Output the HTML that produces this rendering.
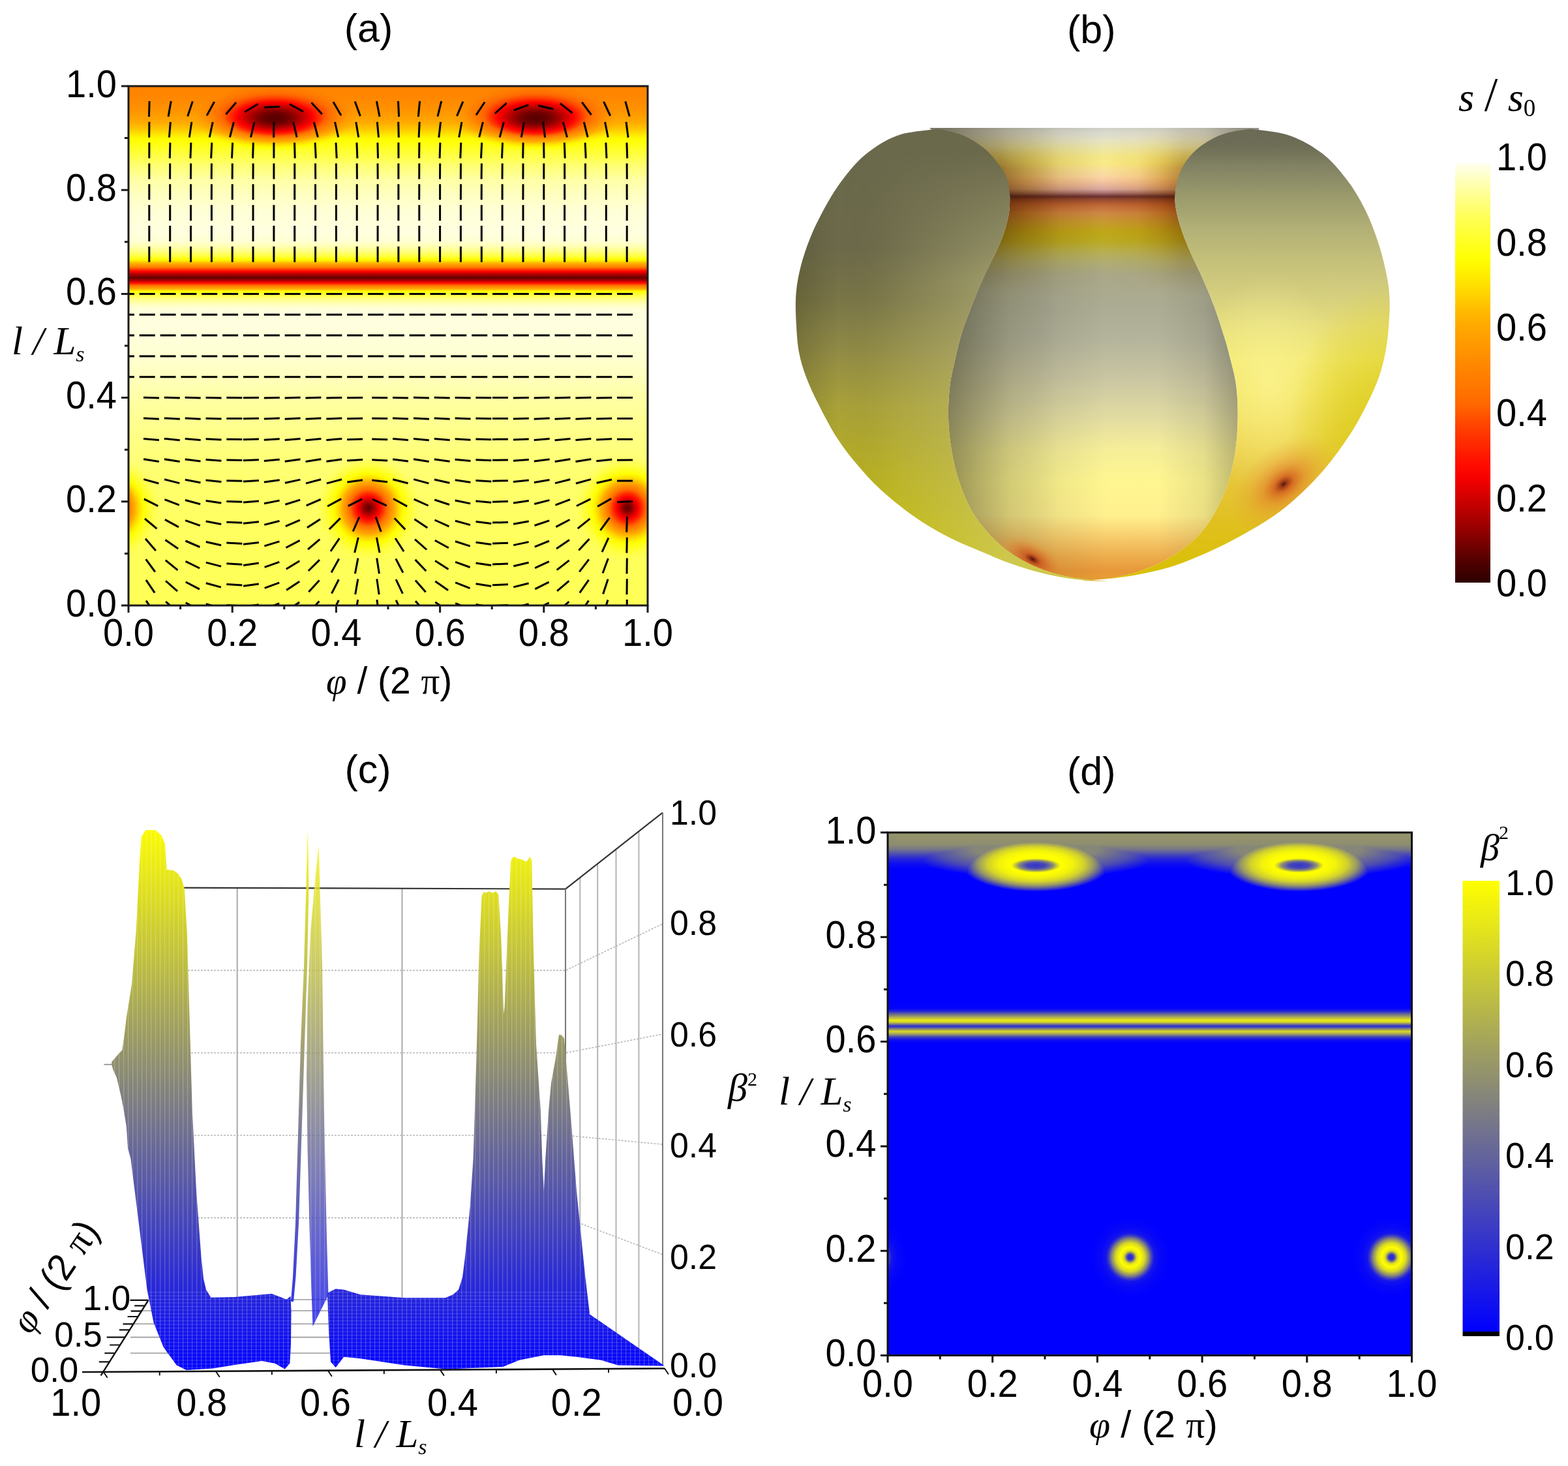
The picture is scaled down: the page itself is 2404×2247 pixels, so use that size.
<!DOCTYPE html>
<html><head><meta charset="utf-8"><title>Figure</title><style>html,body{margin:0;padding:0;background:#fff;}svg{display:block;}</style></head><body>
<svg xmlns="http://www.w3.org/2000/svg" width="2404" height="2247" viewBox="0 0 2404 2247">
<defs>
<filter id="cmA" color-interpolation-filters="sRGB" filterUnits="userSpaceOnUse" x="197" y="132" width="796" height="796"><feComponentTransfer><feFuncR type="table" tableValues="0.1765 0.2194 0.2623 0.3051 0.3585 0.4146 0.4706 0.5266 0.5804 0.6294 0.6784 0.7275 0.7765 0.8248 0.8729 0.9210 0.9692 1.0000 1.0000 1.0000 1.0000 1.0000 1.0000 1.0000 1.0000 1.0000 1.0000 1.0000 1.0000 1.0000 1.0000 1.0000 1.0000 1.0000 1.0000 1.0000 1.0000 1.0000 1.0000 1.0000 1.0000 1.0000 1.0000 1.0000 1.0000 1.0000 1.0000 1.0000 1.0000 1.0000 1.0000 1.0000 1.0000 1.0000 1.0000 1.0000 1.0000 1.0000 1.0000 1.0000 1.0000 1.0000 1.0000 1.0000 1.0000"/><feFuncG type="table" tableValues="0.0000 0.0000 0.0000 0.0000 0.0000 0.0000 0.0000 0.0000 0.0000 0.0000 0.0000 0.0000 0.0000 0.0000 0.0000 0.0000 0.0000 0.0128 0.0483 0.0839 0.1194 0.1550 0.1905 0.2260 0.2678 0.3098 0.3518 0.3938 0.4255 0.4459 0.4663 0.4868 0.5072 0.5276 0.5494 0.5717 0.5939 0.6162 0.6385 0.6608 0.6831 0.7152 0.7520 0.7887 0.8255 0.8623 0.8962 0.9278 0.9595 0.9911 1.0000 1.0000 1.0000 1.0000 1.0000 1.0000 1.0000 1.0000 1.0000 1.0000 1.0000 1.0000 1.0000 1.0000 1.0000"/><feFuncB type="table" tableValues="0.0000 0.0000 0.0000 0.0000 0.0000 0.0000 0.0000 0.0000 0.0000 0.0000 0.0000 0.0000 0.0000 0.0000 0.0000 0.0000 0.0000 0.0000 0.0000 0.0000 0.0000 0.0000 0.0000 0.0000 0.0000 0.0000 0.0000 0.0000 0.0000 0.0000 0.0000 0.0000 0.0000 0.0000 0.0000 0.0000 0.0000 0.0000 0.0000 0.0000 0.0000 0.0000 0.0000 0.0000 0.0000 0.0000 0.0000 0.0000 0.0000 0.0000 0.0385 0.0920 0.1455 0.1989 0.2524 0.3059 0.3594 0.4241 0.4941 0.5641 0.6342 0.7059 0.7843 0.8627 0.9412"/></feComponentTransfer></filter>
<linearGradient id="bgA" gradientUnits="userSpaceOnUse" x1="0" y1="132" x2="0" y2="928"><stop offset="0.0000" stop-color="#808080"/><stop offset="0.0250" stop-color="#858585"/><stop offset="0.0450" stop-color="#8c8c8c"/><stop offset="0.0650" stop-color="#999999"/><stop offset="0.0850" stop-color="#adadad"/><stop offset="0.1000" stop-color="#c2c2c2"/><stop offset="0.1150" stop-color="#cccccc"/><stop offset="0.1300" stop-color="#d6d6d6"/><stop offset="0.1500" stop-color="#e3e3e3"/><stop offset="0.1800" stop-color="#f0f0f0"/><stop offset="0.2100" stop-color="#f6f6f6"/><stop offset="0.2400" stop-color="#fafafa"/><stop offset="0.2800" stop-color="#fcfcfc"/><stop offset="0.3000" stop-color="#f9f9f9"/><stop offset="0.3100" stop-color="#f2f2f2"/><stop offset="0.3200" stop-color="#e6e6e6"/><stop offset="0.3280" stop-color="#d6d6d6"/><stop offset="0.3340" stop-color="#c4c4c4"/><stop offset="0.3410" stop-color="#a3a3a3"/><stop offset="0.3470" stop-color="#858585"/><stop offset="0.3520" stop-color="#616161"/><stop offset="0.3570" stop-color="#424242"/><stop offset="0.3630" stop-color="#262626"/><stop offset="0.3690" stop-color="#121212"/><stop offset="0.3740" stop-color="#262626"/><stop offset="0.3780" stop-color="#424242"/><stop offset="0.3820" stop-color="#616161"/><stop offset="0.3860" stop-color="#858585"/><stop offset="0.3910" stop-color="#a3a3a3"/><stop offset="0.3950" stop-color="#c4c4c4"/><stop offset="0.4020" stop-color="#d9d9d9"/><stop offset="0.4100" stop-color="#e8e8e8"/><stop offset="0.4200" stop-color="#f5f5f5"/><stop offset="0.4300" stop-color="#fbfbfb"/><stop offset="0.4500" stop-color="#fcfcfc"/><stop offset="0.4800" stop-color="#fbfbfb"/><stop offset="0.5200" stop-color="#f9f9f9"/><stop offset="0.5600" stop-color="#f5f5f5"/><stop offset="0.6000" stop-color="#f0f0f0"/><stop offset="0.6400" stop-color="#ececec"/><stop offset="0.7000" stop-color="#e7e7e7"/><stop offset="0.7500" stop-color="#e4e4e4"/><stop offset="0.8000" stop-color="#e2e2e2"/><stop offset="0.9000" stop-color="#dfdfdf"/><stop offset="1.0000" stop-color="#dedede"/></linearGradient>
<radialGradient id="dTop" cx="0.5" cy="0.5" r="0.5"><stop offset="0.000" stop-color="#000" stop-opacity="0.900"/><stop offset="0.120" stop-color="#000" stop-opacity="0.880"/><stop offset="0.220" stop-color="#000" stop-opacity="0.820"/><stop offset="0.340" stop-color="#000" stop-opacity="0.700"/><stop offset="0.470" stop-color="#000" stop-opacity="0.550"/><stop offset="0.620" stop-color="#000" stop-opacity="0.300"/><stop offset="0.780" stop-color="#000" stop-opacity="0.130"/><stop offset="0.900" stop-color="#000" stop-opacity="0.040"/><stop offset="1.000" stop-color="#000" stop-opacity="0.000"/></radialGradient>
<radialGradient id="dBot" cx="0.5" cy="0.5" r="0.5"><stop offset="0.000" stop-color="#000" stop-opacity="0.920"/><stop offset="0.070" stop-color="#000" stop-opacity="0.880"/><stop offset="0.150" stop-color="#000" stop-opacity="0.780"/><stop offset="0.240" stop-color="#000" stop-opacity="0.670"/><stop offset="0.340" stop-color="#000" stop-opacity="0.530"/><stop offset="0.440" stop-color="#000" stop-opacity="0.380"/><stop offset="0.550" stop-color="#000" stop-opacity="0.240"/><stop offset="0.670" stop-color="#000" stop-opacity="0.130"/><stop offset="0.800" stop-color="#000" stop-opacity="0.060"/><stop offset="0.900" stop-color="#000" stop-opacity="0.020"/><stop offset="1.000" stop-color="#000" stop-opacity="0.000"/></radialGradient>
<clipPath id="clipA"><rect x="197" y="132" width="796" height="796"/></clipPath>
<clipPath id="clipBulb"><path d="M1425,196 L1930,196 L1930,260 L1802.2,290.7 L1802.2,290.7 C1802.2,294.9 1800.7,305.8 1802.2,315.8 C1803.7,325.9 1807.0,338.8 1811.0,351.0 C1815.0,363.2 1820.5,376.2 1826.0,388.8 C1831.5,401.4 1837.8,413.1 1843.7,426.5 C1849.6,439.9 1855.8,454.5 1861.3,469.2 C1866.8,483.9 1872.5,501.9 1876.4,514.5 C1880.4,527.1 1881.9,532.4 1885.0,545.0 C1888.1,557.6 1893.1,574.4 1895.2,590.3 C1897.3,606.2 1897.9,623.8 1897.7,640.6 C1897.5,657.4 1896.3,675.0 1894.0,690.9 C1891.7,706.8 1888.5,721.5 1883.9,736.2 C1879.3,750.9 1873.4,765.5 1866.3,778.9 C1859.2,792.3 1851.1,805.4 1841.1,816.7 C1831.0,828.0 1819.0,838.0 1806.0,846.8 C1793.0,855.6 1778.7,863.2 1763.2,869.5 C1747.7,875.8 1730.1,881.2 1712.9,884.6 C1695.7,888.0 1668.8,889.1 1660.0,890.0 L1700.0,891.0 C1694.2,890.5 1677.4,889.8 1665.3,888.3 C1653.2,886.8 1640.2,885.1 1627.6,882.0 C1615.0,878.9 1602.4,874.9 1589.8,869.5 C1577.2,864.1 1563.4,856.9 1552.1,849.4 C1540.8,841.9 1532.0,834.7 1521.9,824.2 C1511.9,813.7 1500.2,800.3 1491.8,786.5 C1483.4,772.7 1477.1,757.1 1471.6,741.2 C1466.1,725.3 1461.9,707.7 1459.0,690.9 C1456.1,674.1 1454.4,657.4 1454.0,640.6 C1453.6,623.8 1454.8,605.0 1456.5,590.3 C1458.2,575.6 1461.2,565.2 1464.1,552.2 C1467.0,539.2 1470.3,524.6 1474.1,512.0 C1477.9,499.4 1482.1,489.0 1486.7,476.8 C1491.3,464.6 1497.2,449.9 1501.8,439.0 C1506.4,428.1 1510.2,420.2 1514.4,411.4 C1518.6,402.6 1522.8,395.4 1527.0,386.2 C1531.2,377.0 1536.2,366.1 1539.5,356.0 C1542.8,345.9 1545.5,335.1 1547.0,325.9 C1548.5,316.7 1548.1,304.9 1548.3,300.7 L1425,196Z"/></clipPath>
<clipPath id="clipLeft"><path d="M1438.9,197.6 C1428.4,199.3 1394.8,201.0 1376.0,207.7 C1357.2,214.4 1340.5,225.7 1325.8,237.8 C1311.1,250.0 1299.3,265.1 1288.0,280.6 C1276.7,296.1 1266.2,315.0 1257.8,330.9 C1249.4,346.8 1243.1,361.5 1237.7,376.2 C1232.3,390.9 1228.1,405.5 1225.2,418.9 C1222.3,432.3 1220.8,443.2 1220.1,456.7 C1219.4,470.2 1220.2,486.1 1221.0,500.0 C1221.8,513.9 1222.5,527.0 1225.0,540.0 C1227.5,553.0 1231.0,564.6 1236.0,578.0 C1241.0,591.4 1247.5,605.0 1255.3,620.5 C1263.1,636.0 1273.3,655.7 1283.0,670.8 C1292.7,685.9 1301.9,697.6 1313.2,711.0 C1324.5,724.4 1336.3,737.9 1351.0,751.3 C1365.7,764.7 1384.5,779.8 1401.2,791.5 C1418.0,803.2 1434.7,812.9 1451.5,821.7 C1468.3,830.5 1485.0,837.2 1501.8,844.3 C1518.6,851.4 1535.3,858.6 1552.1,864.5 C1568.9,870.4 1585.6,875.5 1602.4,879.5 C1619.2,883.5 1636.4,886.4 1652.7,888.3 C1669.0,890.2 1692.1,890.5 1700.0,891.0 L1700.0,891.0 C1694.2,890.5 1677.4,889.8 1665.3,888.3 C1653.2,886.8 1640.2,885.1 1627.6,882.0 C1615.0,878.9 1602.4,874.9 1589.8,869.5 C1577.2,864.1 1563.4,856.9 1552.1,849.4 C1540.8,841.9 1532.0,834.7 1521.9,824.2 C1511.9,813.7 1500.2,800.3 1491.8,786.5 C1483.4,772.7 1477.1,757.1 1471.6,741.2 C1466.1,725.3 1461.9,707.7 1459.0,690.9 C1456.1,674.1 1454.4,657.4 1454.0,640.6 C1453.6,623.8 1454.8,605.0 1456.5,590.3 C1458.2,575.6 1461.2,565.2 1464.1,552.2 C1467.0,539.2 1470.3,524.6 1474.1,512.0 C1477.9,499.4 1482.1,489.0 1486.7,476.8 C1491.3,464.6 1497.2,449.9 1501.8,439.0 C1506.4,428.1 1510.2,420.2 1514.4,411.4 C1518.6,402.6 1522.8,395.4 1527.0,386.2 C1531.2,377.0 1536.2,366.1 1539.5,356.0 C1542.8,345.9 1545.5,335.1 1547.0,325.9 C1548.5,316.7 1548.1,304.9 1548.3,300.7 L1548.3,300.7 C1547.7,296.5 1547.3,283.6 1544.6,275.6 C1541.9,267.7 1537.9,261.0 1532.0,253.0 C1526.1,245.0 1518.6,235.4 1509.4,227.8 C1500.2,220.2 1488.5,212.7 1476.7,207.7 C1465.0,202.7 1445.2,199.3 1438.9,197.6Z"/></clipPath>
<clipPath id="clipRight"><path d="M1916.6,197.6 C1926.7,199.3 1958.5,201.4 1977.0,207.7 C1995.5,214.0 2012.6,224.0 2027.3,235.3 C2042.0,246.6 2054.1,261.4 2065.0,275.6 C2075.9,289.9 2084.7,304.9 2092.7,320.8 C2100.7,336.7 2107.4,354.7 2112.8,371.1 C2118.2,387.5 2122.5,404.7 2125.4,419.0 C2128.3,433.3 2129.8,443.2 2130.4,456.7 C2131.0,470.2 2130.2,486.1 2129.1,500.0 C2128.0,513.9 2126.5,527.0 2124.0,540.0 C2121.5,553.0 2118.4,565.4 2114.0,578.0 C2109.6,590.6 2103.8,603.0 2097.7,615.5 C2091.6,628.0 2085.1,640.6 2077.6,653.2 C2070.1,665.8 2061.6,678.3 2052.4,690.9 C2043.2,703.5 2032.7,716.9 2022.2,728.6 C2011.7,740.3 2001.2,750.8 1989.5,761.3 C1977.8,771.8 1966.5,781.4 1951.8,791.5 C1937.1,801.6 1918.3,812.5 1901.5,821.7 C1884.7,830.9 1868.0,839.2 1851.2,846.8 C1834.4,854.3 1817.7,861.5 1800.9,867.0 C1784.1,872.5 1767.4,876.1 1750.6,879.5 C1733.8,882.9 1715.4,885.4 1700.3,887.1 C1685.2,888.9 1666.7,889.5 1660.0,890.0 L1660.0,890.0 C1668.8,889.1 1695.7,888.0 1712.9,884.6 C1730.1,881.2 1747.7,875.8 1763.2,869.5 C1778.7,863.2 1793.0,855.6 1806.0,846.8 C1819.0,838.0 1831.0,828.0 1841.1,816.7 C1851.1,805.4 1859.2,792.3 1866.3,778.9 C1873.4,765.5 1879.3,750.9 1883.9,736.2 C1888.5,721.5 1891.7,706.8 1894.0,690.9 C1896.3,675.0 1897.5,657.4 1897.7,640.6 C1897.9,623.8 1897.3,606.2 1895.2,590.3 C1893.1,574.4 1888.1,557.6 1885.0,545.0 C1881.9,532.4 1880.4,527.1 1876.4,514.5 C1872.5,501.9 1866.8,483.9 1861.3,469.2 C1855.8,454.5 1849.6,439.9 1843.7,426.5 C1837.8,413.1 1831.5,401.4 1826.0,388.8 C1820.5,376.2 1815.0,363.2 1811.0,351.0 C1807.0,338.8 1803.7,325.9 1802.2,315.8 C1800.7,305.8 1802.2,294.9 1802.2,290.7 L1802.2,290.7 C1803.2,286.5 1805.0,273.9 1808.5,265.5 C1812.0,257.1 1817.2,248.0 1823.5,240.4 C1829.8,232.8 1837.4,226.1 1846.2,220.2 C1855.0,214.3 1864.7,209.0 1876.4,205.2 C1888.1,201.4 1909.9,198.9 1916.6,197.6Z"/></clipPath>
<linearGradient id="bBulbV" gradientUnits="userSpaceOnUse" x1="0" y1="195" x2="0" y2="892"><stop offset="0.0000" stop-color="#cfd0c8"/><stop offset="0.0143" stop-color="#dcdcd0"/><stop offset="0.0287" stop-color="#e6e4c6"/><stop offset="0.0473" stop-color="#eee8a6"/><stop offset="0.0646" stop-color="#f6ea8c"/><stop offset="0.0789" stop-color="#faec88"/><stop offset="0.0961" stop-color="#fae2a0"/><stop offset="0.1105" stop-color="#fcd6a6"/><stop offset="0.1248" stop-color="#f0bea0"/><stop offset="0.1363" stop-color="#d8a8a0"/><stop offset="0.1449" stop-color="#a87070"/><stop offset="0.1521" stop-color="#6a3030"/><stop offset="0.1593" stop-color="#984c30"/><stop offset="0.1707" stop-color="#c06838"/><stop offset="0.1879" stop-color="#d08848"/><stop offset="0.2080" stop-color="#c89a30"/><stop offset="0.2296" stop-color="#c0a818"/><stop offset="0.2511" stop-color="#bcac22"/><stop offset="0.2726" stop-color="#b8b050"/><stop offset="0.2941" stop-color="#b2ae70"/><stop offset="0.3228" stop-color="#aaa888"/><stop offset="0.3945" stop-color="#acac94"/><stop offset="0.4663" stop-color="#b4b49c"/><stop offset="0.5524" stop-color="#cac6a2"/><stop offset="0.6385" stop-color="#e2dca2"/><stop offset="0.7102" stop-color="#f6ee98"/><stop offset="0.7819" stop-color="#fff690"/><stop offset="0.8537" stop-color="#fff08e"/><stop offset="0.8967" stop-color="#f8d070"/><stop offset="0.9397" stop-color="#eeb050"/><stop offset="0.9756" stop-color="#e89838"/><stop offset="1.0000" stop-color="#e8a030"/></linearGradient>
<linearGradient id="bBulbH" gradientUnits="userSpaceOnUse" x1="1452" y1="0" x2="1900" y2="0"><stop offset="0.0000" stop-color="#2a2810" stop-opacity="0.500"/><stop offset="0.1000" stop-color="#2a2810" stop-opacity="0.360"/><stop offset="0.2200" stop-color="#2a2810" stop-opacity="0.200"/><stop offset="0.3800" stop-color="#000" stop-opacity="0.060"/><stop offset="0.5500" stop-color="#000" stop-opacity="0.000"/><stop offset="0.7200" stop-color="#000" stop-opacity="0.000"/><stop offset="0.8800" stop-color="#000" stop-opacity="0.080"/><stop offset="1.0000" stop-color="#000" stop-opacity="0.260"/></linearGradient>
<linearGradient id="bNeckMul" gradientUnits="userSpaceOnUse" x1="1535" y1="0" x2="1815" y2="0"><stop offset="0.0000" stop-color="#b89448"/><stop offset="0.1400" stop-color="#dcc070"/><stop offset="0.3200" stop-color="#f6ecc8"/><stop offset="0.5500" stop-color="#ffffff"/><stop offset="0.7500" stop-color="#f6ecc8"/><stop offset="0.8900" stop-color="#dcc070"/><stop offset="1.0000" stop-color="#b89448"/></linearGradient>
<linearGradient id="bNeckFade" gradientUnits="userSpaceOnUse" x1="0" y1="195" x2="0" y2="450"><stop offset="0.0000" stop-color="#fff" stop-opacity="0.100"/><stop offset="0.1200" stop-color="#fff" stop-opacity="0.300"/><stop offset="0.2500" stop-color="#fff" stop-opacity="0.850"/><stop offset="0.5000" stop-color="#fff" stop-opacity="1.000"/><stop offset="0.8000" stop-color="#fff" stop-opacity="0.300"/><stop offset="1.0000" stop-color="#fff" stop-opacity="0.000"/></linearGradient>
<mask id="bNeckMask" maskUnits="userSpaceOnUse" x="1400" y="190" width="560" height="270"><rect x="1400" y="190" width="560" height="270" fill="url(#bNeckFade)"/></mask>
<radialGradient id="bDef1" cx="0.5" cy="0.5" r="0.5"><stop offset="0.0000" stop-color="#3a1008" stop-opacity="0.950"/><stop offset="0.0800" stop-color="#801c0c" stop-opacity="0.850"/><stop offset="0.2200" stop-color="#c84818" stop-opacity="0.700"/><stop offset="0.5000" stop-color="#dc6c24" stop-opacity="0.450"/><stop offset="0.7500" stop-color="#e48a34" stop-opacity="0.200"/><stop offset="1.0000" stop-color="#e89040" stop-opacity="0.000"/></radialGradient>
<linearGradient id="bLeftMaskG" gradientUnits="userSpaceOnUse" x1="0" y1="230" x2="0" y2="430"><stop offset="0.0000" stop-color="#fff" stop-opacity="0.000"/><stop offset="1.0000" stop-color="#fff" stop-opacity="1.000"/></linearGradient>
<mask id="bLeftMask" maskUnits="userSpaceOnUse" x="1200" y="180" width="520" height="730"><rect x="1200" y="180" width="520" height="730" fill="url(#bLeftMaskG)"/></mask>
<linearGradient id="bLeftV" gradientUnits="userSpaceOnUse" x1="0" y1="200" x2="0" y2="890"><stop offset="0.0000" stop-color="#6a694c"/><stop offset="0.2609" stop-color="#6c6a4a"/><stop offset="0.3768" stop-color="#7a7648"/><stop offset="0.4928" stop-color="#928c46"/><stop offset="0.6087" stop-color="#a9a13a"/><stop offset="0.7536" stop-color="#b8b024"/><stop offset="0.8696" stop-color="#c2ba14"/><stop offset="1.0000" stop-color="#cac200"/></linearGradient>
<linearGradient id="bLeftH" gradientUnits="userSpaceOnUse" x1="1220" y1="0" x2="1550" y2="0"><stop offset="0.0000" stop-color="#1a1a00" stop-opacity="0.180"/><stop offset="0.2000" stop-color="#1a1a00" stop-opacity="0.000"/><stop offset="0.4500" stop-color="#d0cc90" stop-opacity="0.080"/><stop offset="1.0000" stop-color="#d4d094" stop-opacity="0.500"/></linearGradient>
<radialGradient id="bLeftHi" cx="0.5" cy="0.5" r="0.5"><stop offset="0.0000" stop-color="#c8c488" stop-opacity="0.450"/><stop offset="0.5000" stop-color="#c0bc80" stop-opacity="0.250"/><stop offset="1.0000" stop-color="#c0bc80" stop-opacity="0.000"/></radialGradient>
<linearGradient id="bRightV" gradientUnits="userSpaceOnUse" x1="0" y1="197" x2="0" y2="890"><stop offset="0.0000" stop-color="#6a6a55"/><stop offset="0.0404" stop-color="#6e6e57"/><stop offset="0.0837" stop-color="#828264"/><stop offset="0.1486" stop-color="#9a9a6c"/><stop offset="0.2208" stop-color="#b2b076"/><stop offset="0.2929" stop-color="#c4c07a"/><stop offset="0.3651" stop-color="#d4ce7e"/><stop offset="0.4372" stop-color="#e6de7c"/><stop offset="0.5094" stop-color="#f2e870"/><stop offset="0.5815" stop-color="#f2e460"/><stop offset="0.6681" stop-color="#eed850"/><stop offset="0.7547" stop-color="#e8c840"/><stop offset="0.8701" stop-color="#e0c020"/><stop offset="1.0000" stop-color="#d8c000"/></linearGradient>
<radialGradient id="bRightHi" cx="0.5" cy="0.5" r="0.5"><stop offset="0.0000" stop-color="#fff8a0" stop-opacity="0.600"/><stop offset="0.5000" stop-color="#fff8a0" stop-opacity="0.300"/><stop offset="1.0000" stop-color="#fff8a0" stop-opacity="0.000"/></radialGradient>
<radialGradient id="bRightEdge" cx="0.5" cy="0.5" r="0.5"><stop offset="0.0000" stop-color="#d0c000" stop-opacity="0.750"/><stop offset="0.5000" stop-color="#d4c400" stop-opacity="0.450"/><stop offset="1.0000" stop-color="#d8c800" stop-opacity="0.000"/></radialGradient>
<radialGradient id="bDef2" cx="0.5" cy="0.5" r="0.5"><stop offset="0.0000" stop-color="#3a1208" stop-opacity="0.950"/><stop offset="0.0600" stop-color="#902010" stop-opacity="0.850"/><stop offset="0.1800" stop-color="#d04818" stop-opacity="0.700"/><stop offset="0.3800" stop-color="#e07028" stop-opacity="0.500"/><stop offset="0.6500" stop-color="#e89034" stop-opacity="0.280"/><stop offset="1.0000" stop-color="#eaa040" stop-opacity="0.000"/></radialGradient>
<linearGradient id="cbA" x1="0" y1="0" x2="0" y2="1"><stop offset="0.0000" stop-color="#fffff0"/><stop offset="0.0250" stop-color="#ffffd0"/><stop offset="0.0500" stop-color="#ffffb0"/><stop offset="0.0750" stop-color="#ffff93"/><stop offset="0.1000" stop-color="#ffff77"/><stop offset="0.1250" stop-color="#ffff5c"/><stop offset="0.1500" stop-color="#ffff46"/><stop offset="0.1750" stop-color="#ffff30"/><stop offset="0.2000" stop-color="#ffff1a"/><stop offset="0.2250" stop-color="#ffff04"/><stop offset="0.2500" stop-color="#fff500"/><stop offset="0.2750" stop-color="#ffe800"/><stop offset="0.3000" stop-color="#ffda00"/><stop offset="0.3250" stop-color="#ffcb00"/><stop offset="0.3500" stop-color="#ffbc00"/><stop offset="0.3750" stop-color="#ffae00"/><stop offset="0.4000" stop-color="#ffa500"/><stop offset="0.4250" stop-color="#ff9c00"/><stop offset="0.4500" stop-color="#ff9300"/><stop offset="0.4750" stop-color="#ff8a00"/><stop offset="0.5000" stop-color="#ff8100"/><stop offset="0.5250" stop-color="#ff7900"/><stop offset="0.5500" stop-color="#ff7100"/><stop offset="0.5750" stop-color="#ff6700"/><stop offset="0.6000" stop-color="#ff5500"/><stop offset="0.6250" stop-color="#ff4400"/><stop offset="0.6500" stop-color="#ff3400"/><stop offset="0.6750" stop-color="#ff2600"/><stop offset="0.7000" stop-color="#ff1700"/><stop offset="0.7250" stop-color="#ff0900"/><stop offset="0.7500" stop-color="#f70000"/><stop offset="0.7750" stop-color="#e30000"/><stop offset="0.8000" stop-color="#d00000"/><stop offset="0.8250" stop-color="#bc0000"/><stop offset="0.8500" stop-color="#a80000"/><stop offset="0.8750" stop-color="#940000"/><stop offset="0.9000" stop-color="#7e0000"/><stop offset="0.9250" stop-color="#670000"/><stop offset="0.9500" stop-color="#500000"/><stop offset="0.9750" stop-color="#3f0000"/><stop offset="1.0000" stop-color="#2d0000"/></linearGradient>
<linearGradient id="cSurf" gradientUnits="userSpaceOnUse" x1="0" y1="2104" x2="0" y2="1259"><stop offset="0.0000" stop-color="#0000ff"/><stop offset="0.0500" stop-color="#0d0df2"/><stop offset="0.1000" stop-color="#1a1ae6"/><stop offset="0.1500" stop-color="#2626d9"/><stop offset="0.2000" stop-color="#3333cc"/><stop offset="0.2500" stop-color="#4040c0"/><stop offset="0.3000" stop-color="#4d4db3"/><stop offset="0.3500" stop-color="#5a5aa6"/><stop offset="0.4000" stop-color="#666699"/><stop offset="0.4500" stop-color="#73738d"/><stop offset="0.5000" stop-color="#808080"/><stop offset="0.5500" stop-color="#8d8d73"/><stop offset="0.6000" stop-color="#999966"/><stop offset="0.6500" stop-color="#a6a65a"/><stop offset="0.7000" stop-color="#b3b34d"/><stop offset="0.7500" stop-color="#c0c040"/><stop offset="0.8000" stop-color="#cccc33"/><stop offset="0.8500" stop-color="#d9d926"/><stop offset="0.9000" stop-color="#e6e61a"/><stop offset="0.9500" stop-color="#f2f20d"/><stop offset="1.0000" stop-color="#ffff00"/></linearGradient>
<pattern id="cVert" patternUnits="userSpaceOnUse" x="0" y="0" width="7" height="40"><rect x="0" y="0" width="1.2" height="40" fill="#fff" fill-opacity="0.22"/></pattern>
<pattern id="cHorz" patternUnits="userSpaceOnUse" x="0" y="0" width="40" height="5.5"><rect x="0" y="0" width="40" height="1.1" fill="#fff" fill-opacity="0.16"/></pattern>
<clipPath id="cClipL"><polygon points="216.7,1283.0 223.4,1272.3 238.2,1272.3 247.6,1280.4 253.0,1293.8 255.7,1333.0 266.5,1334.2 273.2,1339.6 278.6,1347.6 282.6,1361.0 286.7,1428.4 290.7,1563.0 294.7,1700.0 301.0,1825.8 308.5,1926.4 312.0,1960.0 316.0,1976.7 323.5,1988.7 360.0,1988.0 401.5,1984.2 416.6,1983.0 426.7,1986.7 439.2,1991.7 445.5,1986.7 446.5,2010.0 446.0,2060.0 444.3,2089.8 436.7,2098.6 421.6,2089.8 401.5,2086.0 360.0,2092.0 326.0,2097.4 285.8,2100.0 270.7,2092.4 250.6,2064.7 235.5,2027.0 225.5,1976.7 212.9,1876.0 200.3,1775.5 196.0,1760.0 193.8,1726.8 189.5,1700.0 185.2,1678.4 178.8,1651.5 173.4,1639.7 171.2,1631.6 171.2,1627.8 182.0,1615.0 187.4,1609.5 190.6,1587.0 193.8,1560.0 202.0,1509.0 208.6,1428.0 214.0,1320.7"/></clipPath>
<clipPath id="cClipR"><polygon points="502.0,1981.7 514.7,1975.4 527.3,1976.7 552.4,1984.2 620.0,1989.2 682.9,1989.2 695.0,1984.0 703.0,1976.7 709.0,1958.0 713.0,1926.4 720.6,1851.0 725.6,1775.5 728.0,1700.0 731.0,1600.0 734.5,1462.0 738.6,1373.4 741.5,1367.0 745.0,1368.5 750.0,1366.0 755.0,1369.0 760.0,1366.2 764.2,1370.7 768.2,1435.3 772.2,1553.7 773.6,1543.0 779.0,1408.4 783.0,1322.3 783.8,1316.9 788.4,1312.8 793.0,1316.0 799.1,1316.9 807.2,1321.0 812.6,1312.8 815.3,1319.6 818.0,1462.0 822.0,1600.0 828.7,1700.0 831.3,1775.5 833.8,1825.8 836.3,1775.5 841.3,1700.0 845.0,1660.0 851.6,1623.7 857.0,1586.0 861.0,1586.5 865.0,1591.4 870.0,1650.0 875.8,1720.0 884.0,1825.8 896.7,1951.5 904.2,2014.4 960.0,2053.0 1017.4,2092.4 1017.4,2093.6 947.0,2092.4 921.8,2084.8 884.0,2079.8 859.0,2077.3 833.8,2077.3 796.0,2084.8 771.0,2094.9 700.0,2098.0 682.9,2098.6 620.0,2092.4 552.4,2082.3 527.3,2079.8 514.7,2096.0 507.0,2087.3 504.0,2040.0"/></clipPath>
<filter id="cmD" color-interpolation-filters="sRGB" filterUnits="userSpaceOnUse" x="1361" y="1276" width="803.5" height="801.5"><feComponentTransfer><feFuncR type="table" tableValues="0.0000 0.0314 0.0627 0.0941 0.1255 0.1569 0.1882 0.2196 0.2510 0.2824 0.3137 0.3451 0.3765 0.4078 0.4392 0.4706 0.5020 0.5331 0.5642 0.5953 0.6265 0.6576 0.6887 0.7199 0.7510 0.7821 0.8132 0.8444 0.8755 0.9066 0.9377 0.9689 1.0000"/><feFuncG type="table" tableValues="0.0000 0.0314 0.0627 0.0941 0.1255 0.1569 0.1882 0.2196 0.2510 0.2824 0.3137 0.3451 0.3765 0.4078 0.4392 0.4706 0.5020 0.5331 0.5642 0.5953 0.6265 0.6576 0.6887 0.7199 0.7510 0.7821 0.8132 0.8444 0.8755 0.9066 0.9377 0.9689 1.0000"/><feFuncB type="table" tableValues="1.0000 0.9689 0.9377 0.9066 0.8755 0.8444 0.8132 0.7821 0.7510 0.7199 0.6887 0.6576 0.6265 0.5953 0.5642 0.5331 0.5020 0.4706 0.4392 0.4078 0.3765 0.3451 0.3137 0.2824 0.2510 0.2196 0.1882 0.1569 0.1255 0.0941 0.0627 0.0314 0.0000"/></feComponentTransfer></filter>
<linearGradient id="dTopBand" gradientUnits="userSpaceOnUse" x1="0" y1="1276" x2="0" y2="1336"><stop offset="0.0000" stop-color="#fff" stop-opacity="0.580"/><stop offset="0.3000" stop-color="#fff" stop-opacity="0.560"/><stop offset="0.4333" stop-color="#fff" stop-opacity="0.460"/><stop offset="0.5500" stop-color="#fff" stop-opacity="0.300"/><stop offset="0.6667" stop-color="#fff" stop-opacity="0.150"/><stop offset="0.8000" stop-color="#fff" stop-opacity="0.050"/><stop offset="0.9333" stop-color="#fff" stop-opacity="0.000"/></linearGradient>
<linearGradient id="dLines" gradientUnits="userSpaceOnUse" x1="0" y1="1538" x2="0" y2="1600"><stop offset="0.0000" stop-color="#fff" stop-opacity="0.000"/><stop offset="0.1290" stop-color="#fff" stop-opacity="0.020"/><stop offset="0.1935" stop-color="#fff" stop-opacity="0.150"/><stop offset="0.2742" stop-color="#fff" stop-opacity="0.450"/><stop offset="0.3548" stop-color="#fff" stop-opacity="0.720"/><stop offset="0.4194" stop-color="#fff" stop-opacity="0.930"/><stop offset="0.4677" stop-color="#fff" stop-opacity="0.800"/><stop offset="0.5097" stop-color="#fff" stop-opacity="0.500"/><stop offset="0.5645" stop-color="#fff" stop-opacity="0.150"/><stop offset="0.6258" stop-color="#fff" stop-opacity="0.500"/><stop offset="0.6935" stop-color="#fff" stop-opacity="0.860"/><stop offset="0.7629" stop-color="#fff" stop-opacity="0.600"/><stop offset="0.8306" stop-color="#fff" stop-opacity="0.250"/><stop offset="0.9032" stop-color="#fff" stop-opacity="0.050"/><stop offset="1.0000" stop-color="#fff" stop-opacity="0.000"/></linearGradient>
<radialGradient id="dBlob" cx="0.5" cy="0.5" r="0.5"><stop offset="0.000" stop-color="#ffffff"/><stop offset="0.350" stop-color="#ffffff"/><stop offset="0.500" stop-color="#f2f2f2"/><stop offset="0.650" stop-color="#d1d1d1"/><stop offset="0.780" stop-color="#999999"/><stop offset="0.880" stop-color="#595959"/><stop offset="1.000" stop-color="#000000"/></radialGradient>
<radialGradient id="dHole" cx="0.5" cy="0.5" r="0.5"><stop offset="0.000" stop-color="#000" stop-opacity="0.800"/><stop offset="0.400" stop-color="#000" stop-opacity="0.720"/><stop offset="0.700" stop-color="#000" stop-opacity="0.450"/><stop offset="0.850" stop-color="#000" stop-opacity="0.200"/><stop offset="1.000" stop-color="#000" stop-opacity="0.000"/></radialGradient>
<radialGradient id="dHalo" cx="0.5" cy="0.5" r="0.5"><stop offset="0.000" stop-color="#8f8f8f"/><stop offset="0.450" stop-color="#858585"/><stop offset="0.750" stop-color="#4c4c4c"/><stop offset="1.000" stop-color="#000000"/></radialGradient>
<radialGradient id="dBRing" cx="0.5" cy="0.5" r="0.5"><stop offset="0.000" stop-color="#fff" stop-opacity="0.150"/><stop offset="0.067" stop-color="#fff" stop-opacity="0.200"/><stop offset="0.117" stop-color="#fff" stop-opacity="0.550"/><stop offset="0.167" stop-color="#fff" stop-opacity="0.880"/><stop offset="0.250" stop-color="#fff" stop-opacity="1.000"/><stop offset="0.367" stop-color="#fff" stop-opacity="0.850"/><stop offset="0.483" stop-color="#fff" stop-opacity="0.500"/><stop offset="0.550" stop-color="#fff" stop-opacity="0.250"/><stop offset="0.617" stop-color="#fff" stop-opacity="0.080"/><stop offset="0.750" stop-color="#fff" stop-opacity="0.030"/><stop offset="1.000" stop-color="#fff" stop-opacity="0.000"/></radialGradient>
<clipPath id="clipD"><rect x="1361" y="1276" width="803.5" height="801.5"/></clipPath>
<linearGradient id="cbD" x1="0" y1="0" x2="0" y2="1"><stop offset="0.000" stop-color="#ffff00"/><stop offset="0.050" stop-color="#f2f20d"/><stop offset="0.100" stop-color="#e6e61a"/><stop offset="0.150" stop-color="#d9d926"/><stop offset="0.200" stop-color="#cccc33"/><stop offset="0.250" stop-color="#c0c040"/><stop offset="0.300" stop-color="#b3b34d"/><stop offset="0.350" stop-color="#a6a65a"/><stop offset="0.400" stop-color="#999966"/><stop offset="0.450" stop-color="#8d8d73"/><stop offset="0.500" stop-color="#808080"/><stop offset="0.550" stop-color="#73738d"/><stop offset="0.600" stop-color="#666699"/><stop offset="0.650" stop-color="#5a5aa6"/><stop offset="0.700" stop-color="#4d4db3"/><stop offset="0.750" stop-color="#4040c0"/><stop offset="0.800" stop-color="#3333cc"/><stop offset="0.850" stop-color="#2626d9"/><stop offset="0.900" stop-color="#1a1ae6"/><stop offset="0.950" stop-color="#0d0df2"/><stop offset="1.000" stop-color="#0000ff"/></linearGradient>
</defs>
<rect x="0" y="0" width="2404" height="2247" fill="#fff"/>
<g clip-path="url(#clipA)"><g filter="url(#cmA)">
<rect x="197" y="132" width="796" height="796" fill="url(#bgA)"/>
<ellipse cx="421.5" cy="181.5" rx="125" ry="50" fill="url(#dTop)"/>
<ellipse cx="821.6" cy="181.5" rx="125" ry="50" fill="url(#dTop)"/>
<circle cx="564.9" cy="778.5" r="80" fill="url(#dBot)"/>
<circle cx="962.2" cy="778.5" r="80" fill="url(#dBot)"/>
<circle cx="166.2" cy="778.5" r="80" fill="url(#dBot)"/>
</g>
<path d="M237.1,940.7L224.0,920.6M271.9,938.1L254.1,922.1M305.8,935.2L284.7,923.8M338.9,932.1L315.8,925.6M371.3,928.9L347.3,927.5M373.1,930.2L396.8,926.7M405.7,933.3L428.2,924.9M439.1,936.4L459.1,923.1M473.4,939.2L489.5,921.4M508.7,941.5L519.3,920.0M544.7,942.9L548.7,919.2M581.1,943.0L577.9,919.2M617.3,941.7L607.2,919.9M652.6,939.5L637.0,921.3M687.0,936.7L667.3,922.9M720.5,933.6L698.2,924.7M753.2,930.5L729.5,926.5M755.0,928.6L779.0,927.6M787.3,931.8L810.6,925.8M820.3,934.9L841.7,923.9M854.2,937.9L872.4,922.2M889.0,940.5L902.5,920.7M924.7,942.4L932.0,919.5M961.0,943.1L961.3,919.1M237.2,908.7L223.9,888.8M272.0,906.1L254.0,890.3M305.9,903.2L284.7,892.0M338.9,900.1L315.8,893.8M371.3,897.1L347.3,895.6M373.1,898.3L396.8,894.9M405.7,901.4L428.2,893.1M439.1,904.4L459.2,891.3M473.3,907.3L489.6,889.6M508.5,909.6L519.4,888.2M544.7,911.1L548.8,887.4M581.2,911.1L577.8,887.4M617.4,909.8L607.1,888.1M652.7,907.5L636.9,889.5M687.1,904.7L667.3,891.1M720.5,901.7L698.2,892.9M753.2,898.6L729.5,894.7M755.0,896.8L779.0,895.8M787.3,899.9L810.6,894.0M820.3,902.9L841.7,892.2M854.1,905.9L872.4,890.4M888.8,908.6L902.6,888.9M924.6,910.5L932.1,887.7M961.0,911.3L961.3,887.3M237.8,876.5L223.6,857.1M272.4,873.8L253.8,858.7M306.1,871.0L284.5,860.4M339.0,868.1L315.8,862.1M371.3,865.2L347.3,863.8M373.1,866.4L396.8,863.1M405.6,869.3L428.3,861.4M438.8,872.2L459.3,859.7M472.8,875.0L489.9,858.1M508.0,877.5L519.7,856.6M544.4,879.2L548.9,855.6M581.4,879.3L577.7,855.5M617.9,877.7L606.8,856.4M653.2,875.3L636.6,857.9M687.4,872.4L667.1,859.6M720.6,869.5L698.1,861.3M753.2,866.6L729.5,863.0M755.0,864.9L779.0,864.0M787.3,867.8L810.6,862.3M820.1,870.7L841.8,860.6M853.7,873.6L872.6,858.9M888.3,876.3L902.9,857.3M924.1,878.5L932.4,856.0M961.0,879.4L961.3,855.4M238.8,843.9L223.0,825.8M273.1,841.1L253.4,827.4M306.4,838.5L284.4,829.0M339.1,835.8L315.7,830.5M371.3,833.2L347.3,832.0M373.0,834.3L396.9,831.4M405.4,836.9L428.4,829.9M438.4,839.5L459.6,828.3M472.0,842.2L490.3,826.7M506.9,845.0L520.4,825.2M543.7,847.2L549.3,823.9M582.0,847.3L577.4,823.8M619.1,845.2L606.1,825.0M654.1,842.5L636.1,826.6M687.8,839.8L666.8,828.2M720.8,837.1L698.0,829.7M753.3,834.5L729.5,831.3M755.0,833.0L779.0,832.2M787.2,835.6L810.6,830.6M819.8,838.2L842.0,829.1M853.1,840.9L873.0,827.5M887.3,843.6L903.5,825.9M923.0,846.2L933.0,824.4M960.9,847.6L961.3,823.6M240.5,810.3L222.0,795.0M273.9,807.9L252.9,796.4M306.8,805.7L284.1,797.7M339.2,803.5L315.6,799.0M371.3,801.3L347.3,800.3M373.0,802.2L396.9,799.7M405.2,804.4L428.5,798.5M437.8,806.6L459.9,797.2M470.9,808.8L491.0,795.8M504.7,811.3L521.7,794.4M541.2,814.5L550.8,792.5M584.2,814.9L576.1,792.3M621.3,811.6L604.8,794.2M655.3,809.1L635.4,795.7M688.4,806.8L666.5,797.0M721.0,804.6L697.9,798.3M753.3,802.4L729.5,799.6M755.0,801.1L779.0,800.4M787.1,803.3L810.7,799.1M819.5,805.5L842.2,797.8M852.3,807.7L873.5,796.5M885.7,810.1L904.4,795.1M920.4,812.8L934.6,793.5M960.7,815.8L961.4,791.8M242.3,775.6L220.9,764.8M274.8,774.2L252.4,765.6M307.1,772.7L283.9,766.5M339.3,771.0L315.6,767.5M371.3,769.3L347.3,768.5M373.0,770.0L396.9,768.1M405.0,771.7L428.6,767.1M437.3,773.3L460.2,766.1M469.7,774.8L491.7,765.3M502.1,776.0L523.2,764.6M533.7,775.6L555.2,764.8M592.8,775.1L571.0,765.1M624.2,776.1L603.1,764.5M656.6,775.0L634.6,765.2M689.0,773.5L666.2,766.0M721.2,771.9L697.7,767.0M753.3,770.2L729.4,768.0M755.0,769.2L779.0,768.6M787.0,770.9L810.8,767.6M819.2,772.5L842.4,766.6M851.5,774.1L874.0,765.7M883.9,775.5L905.4,764.9M916.1,776.2L937.1,764.4M946.1,769.5L970.0,768.4M243.4,741.0L220.3,734.6M275.3,740.6L252.1,734.8M307.4,739.7L283.8,735.3M339.4,738.6L315.5,736.0M371.3,737.3L347.3,736.7M372.9,737.9L396.9,736.4M404.9,739.1L428.7,735.7M436.9,740.2L460.4,735.1M469.0,740.9L492.1,734.7M500.8,740.9L524.0,734.7M532.3,739.1L556.0,735.7M594.1,738.7L570.3,736.0M625.6,740.8L602.3,734.7M657.4,740.9L634.2,734.6M689.4,740.2L665.9,735.0M721.4,739.2L697.7,735.7M753.4,738.0L729.4,736.4M755.0,737.2L779.0,736.8M786.9,738.5L810.8,736.1M818.9,739.6L842.5,735.4M851.0,740.6L874.3,734.8M882.9,741.0L906.0,734.6M914.6,740.2L938.0,735.0M946.0,737.1L970.0,736.9M243.8,707.4L220.1,703.8M275.6,707.5L251.9,703.8M307.5,707.0L283.7,704.0M339.4,706.2L315.5,704.5M371.3,705.4L347.3,705.0M372.9,705.7L396.9,704.8M404.8,706.6L428.7,704.3M436.7,707.2L460.5,703.9M468.6,707.5L492.3,703.7M500.4,707.2L524.2,703.9M532.1,706.1L556.1,704.6M594.2,705.9L570.2,704.7M625.9,707.1L602.1,704.0M657.7,707.5L634.0,703.7M689.6,707.2L665.8,703.9M721.5,706.6L697.6,704.2M753.4,705.8L729.4,704.7M755.0,705.3L779.0,705.0M786.9,706.2L810.8,704.5M818.8,706.9L842.6,704.1M850.7,707.4L874.4,703.8M882.5,707.4L906.3,703.8M914.3,706.7L938.2,704.2M946.0,705.2L970.0,705.1M243.9,674.6L220.0,672.5M275.7,674.7L251.8,672.4M307.6,674.5L283.7,672.6M339.5,674.0L315.5,672.8M371.3,673.5L347.3,673.2M372.9,673.7L396.9,673.0M404.8,674.2L428.7,672.7M436.7,674.6L460.6,672.5M468.5,674.7L492.4,672.4M500.3,674.4L524.3,672.6M532.1,673.8L556.1,673.0M594.2,673.7L570.2,673.1M626.0,674.4L602.1,672.6M657.8,674.7L633.9,672.5M689.7,674.6L665.8,672.5M721.5,674.3L697.6,672.7M753.4,673.7L729.4,673.0M755.0,673.4L779.0,673.2M786.9,674.0L810.8,672.9M818.7,674.4L842.7,672.6M850.6,674.7L874.5,672.5M882.4,674.6L906.3,672.5M914.2,674.1L938.2,672.8M946.0,673.3L970.0,673.3M243.9,642.2L220.0,641.0M275.8,642.3L251.8,640.9M307.6,642.2L283.7,641.0M339.5,641.9L315.5,641.2M371.3,641.6L347.3,641.4M372.9,641.7L396.9,641.3M404.8,642.0L428.8,641.1M436.6,642.3L460.6,641.0M468.5,642.3L492.4,640.9M500.3,642.1L524.3,641.0M532.1,641.7L556.1,641.3M594.2,641.6L570.2,641.3M626.0,642.1L602.0,641.1M657.9,642.3L633.9,641.0M689.7,642.3L665.7,641.0M721.5,642.1L697.6,641.1M753.4,641.7L729.4,641.3M755.0,641.5L779.0,641.4M786.8,641.9L810.8,641.2M818.7,642.2L842.7,641.0M850.5,642.3L874.5,640.9M882.4,642.2L906.3,641.0M914.2,641.9L938.2,641.2M946.0,641.4L970.0,641.4M244.0,610.1L220.0,609.3M275.8,610.1L251.8,609.3M307.6,610.1L283.6,609.3M339.5,609.9L315.5,609.4M371.3,609.7L347.3,609.6M372.9,609.8L396.9,609.5M404.8,610.0L428.8,609.4M436.6,610.1L460.6,609.3M468.4,610.1L492.4,609.3M500.3,610.0L524.3,609.4M532.1,609.8L556.1,609.5M594.2,609.7L570.2,609.5M626.0,610.0L602.0,609.4M657.9,610.1L633.9,609.3M689.7,610.1L665.7,609.3M721.6,610.0L697.6,609.4M753.4,609.8L729.4,609.5M755.0,609.6L779.0,609.6M786.8,609.9L810.8,609.4M818.7,610.0L842.7,609.3M850.5,610.1L874.5,609.3M882.4,610.1L906.4,609.3M914.2,609.9L938.2,609.4M946.0,609.6L970.0,609.6M181.9,577.8L205.9,577.8M213.7,577.8L237.7,577.8M245.6,577.8L269.6,577.8M277.4,577.8L301.4,577.8M309.2,577.8L333.2,577.8M341.1,577.8L365.1,577.8M372.9,577.8L396.9,577.8M404.8,577.8L428.8,577.8M436.6,577.8L460.6,577.8M468.4,577.8L492.4,577.8M500.3,577.8L524.3,577.8M532.1,577.8L556.1,577.8M564.0,577.8L588.0,577.8M595.8,577.8L619.8,577.8M627.6,577.8L651.6,577.8M659.5,577.8L683.5,577.8M691.3,577.8L715.3,577.8M723.2,577.8L747.2,577.8M755.0,577.8L779.0,577.8M786.8,577.8L810.8,577.8M818.7,577.8L842.7,577.8M850.5,577.8L874.5,577.8M882.4,577.8L906.4,577.8M914.2,577.8L938.2,577.8M946.0,577.8L970.0,577.8M181.9,545.9L205.9,545.9M213.7,545.9L237.7,545.9M245.6,545.9L269.6,545.9M277.4,545.9L301.4,545.9M309.2,545.9L333.2,545.9M341.1,545.9L365.1,545.9M372.9,545.9L396.9,545.9M404.8,545.9L428.8,545.9M436.6,545.9L460.6,545.9M468.4,545.9L492.4,545.9M500.3,545.9L524.3,545.9M532.1,545.9L556.1,545.9M564.0,545.9L588.0,545.9M595.8,545.9L619.8,545.9M627.6,545.9L651.6,545.9M659.5,545.9L683.5,545.9M691.3,545.9L715.3,545.9M723.2,545.9L747.2,545.9M755.0,545.9L779.0,545.9M786.8,545.9L810.8,545.9M818.7,545.9L842.7,545.9M850.5,545.9L874.5,545.9M882.4,545.9L906.4,545.9M914.2,545.9L938.2,545.9M946.0,545.9L970.0,545.9M181.9,514.1L205.9,514.1M213.7,514.1L237.7,514.1M245.6,514.1L269.6,514.1M277.4,514.1L301.4,514.1M309.2,514.1L333.2,514.1M341.1,514.1L365.1,514.1M372.9,514.1L396.9,514.1M404.8,514.1L428.8,514.1M436.6,514.1L460.6,514.1M468.4,514.1L492.4,514.1M500.3,514.1L524.3,514.1M532.1,514.1L556.1,514.1M564.0,514.1L588.0,514.1M595.8,514.1L619.8,514.1M627.6,514.1L651.6,514.1M659.5,514.1L683.5,514.1M691.3,514.1L715.3,514.1M723.2,514.1L747.2,514.1M755.0,514.1L779.0,514.1M786.8,514.1L810.8,514.1M818.7,514.1L842.7,514.1M850.5,514.1L874.5,514.1M882.4,514.1L906.4,514.1M914.2,514.1L938.2,514.1M946.0,514.1L970.0,514.1M181.9,482.2L205.9,482.2M213.7,482.2L237.7,482.2M245.6,482.2L269.6,482.2M277.4,482.2L301.4,482.2M309.2,482.2L333.2,482.2M341.1,482.2L365.1,482.2M372.9,482.2L396.9,482.2M404.8,482.2L428.8,482.2M436.6,482.2L460.6,482.2M468.4,482.2L492.4,482.2M500.3,482.2L524.3,482.2M532.1,482.2L556.1,482.2M564.0,482.2L588.0,482.2M595.8,482.2L619.8,482.2M627.6,482.2L651.6,482.2M659.5,482.2L683.5,482.2M691.3,482.2L715.3,482.2M723.2,482.2L747.2,482.2M755.0,482.2L779.0,482.2M786.8,482.2L810.8,482.2M818.7,482.2L842.7,482.2M850.5,482.2L874.5,482.2M882.4,482.2L906.4,482.2M914.2,482.2L938.2,482.2M946.0,482.2L970.0,482.2M181.9,450.4L205.9,450.4M213.7,450.4L237.7,450.4M245.6,450.4L269.6,450.4M277.4,450.4L301.4,450.4M309.2,450.4L333.2,450.4M341.1,450.4L365.1,450.4M372.9,450.4L396.9,450.4M404.8,450.4L428.8,450.4M436.6,450.4L460.6,450.4M468.4,450.4L492.4,450.4M500.3,450.4L524.3,450.4M532.1,450.4L556.1,450.4M564.0,450.4L588.0,450.4M595.8,450.4L619.8,450.4M627.6,450.4L651.6,450.4M659.5,450.4L683.5,450.4M691.3,450.4L715.3,450.4M723.2,450.4L747.2,450.4M755.0,450.4L779.0,450.4M786.8,450.4L810.8,450.4M818.7,450.4L842.7,450.4M850.5,450.4L874.5,450.4M882.4,450.4L906.4,450.4M914.2,450.4L938.2,450.4M946.0,450.4L970.0,450.4M228.8,401.8L228.8,377.8M260.7,401.8L260.7,377.8M292.5,401.8L292.5,377.8M324.4,401.8L324.4,377.8M356.2,401.8L356.2,377.8M388.0,401.8L388.0,377.8M419.9,401.8L419.9,377.8M451.7,401.8L451.7,377.8M483.6,401.8L483.6,377.8M515.4,401.8L515.4,377.8M547.2,401.8L547.2,377.8M579.1,401.8L579.1,377.8M610.9,401.8L610.9,377.8M642.8,401.8L642.8,377.8M674.6,401.8L674.6,377.8M706.4,401.8L706.4,377.8M738.3,401.8L738.3,377.8M770.1,401.8L770.1,377.8M802.0,401.8L802.0,377.8M833.8,401.8L833.8,377.8M865.6,401.8L865.6,377.8M897.5,401.8L897.5,377.8M929.3,401.8L929.3,377.8M961.2,401.8L961.2,377.8M228.8,370.0L228.8,346.0M260.7,370.0L260.7,346.0M292.5,370.0L292.5,346.0M324.4,370.0L324.4,346.0M356.2,370.0L356.2,346.0M388.0,370.0L388.0,346.0M419.9,370.0L419.9,346.0M451.7,370.0L451.7,346.0M483.6,370.0L483.6,346.0M515.4,370.0L515.4,346.0M547.2,370.0L547.2,346.0M579.1,370.0L579.1,346.0M610.9,370.0L610.9,346.0M642.8,370.0L642.8,346.0M674.6,370.0L674.6,346.0M706.4,370.0L706.4,346.0M738.3,370.0L738.3,346.0M770.1,370.0L770.1,346.0M802.0,370.0L802.0,346.0M833.8,370.0L833.8,346.0M865.6,370.0L865.6,346.0M897.5,370.0L897.5,346.0M929.3,370.0L929.3,346.0M961.2,370.0L961.2,346.0M228.8,338.2L228.8,314.2M260.7,338.2L260.7,314.2M292.5,338.2L292.5,314.2M324.4,338.2L324.4,314.2M356.2,338.2L356.2,314.2M388.0,338.2L388.0,314.2M419.9,338.2L419.9,314.2M451.7,338.2L451.7,314.2M483.6,338.2L483.6,314.2M515.4,338.2L515.4,314.2M547.2,338.2L547.2,314.2M579.1,338.2L579.1,314.2M610.9,338.2L610.9,314.2M642.8,338.2L642.8,314.2M674.6,338.2L674.6,314.2M706.4,338.2L706.4,314.2M738.3,338.2L738.3,314.2M770.1,338.2L770.1,314.2M802.0,338.2L802.0,314.2M833.8,338.2L833.8,314.2M865.6,338.2L865.6,314.2M897.5,338.2L897.5,314.2M929.3,338.2L929.3,314.2M961.2,338.2L961.2,314.2M228.8,306.3L228.8,282.3M260.7,306.3L260.7,282.3M292.5,306.3L292.5,282.3M324.3,306.3L324.4,282.3M356.2,306.3L356.2,282.3M388.0,306.3L388.0,282.3M419.9,306.3L419.9,282.3M451.7,306.3L451.7,282.3M483.6,306.3L483.5,282.3M515.4,306.3L515.4,282.3M547.3,306.3L547.2,282.3M579.1,306.3L579.1,282.3M610.9,306.3L610.9,282.3M642.7,306.3L642.8,282.3M674.6,306.3L674.6,282.3M706.4,306.3L706.5,282.3M738.2,306.3L738.3,282.3M770.1,306.3L770.1,282.3M801.9,306.3L802.0,282.3M833.8,306.3L833.8,282.3M865.7,306.3L865.6,282.3M897.5,306.3L897.5,282.3M929.3,306.3L929.3,282.3M961.2,306.3L961.1,282.3M228.8,274.5L228.8,250.5M260.6,274.5L260.7,250.5M292.4,274.5L292.6,250.5M324.2,274.5L324.4,250.5M356.1,274.5L356.3,250.5M388.0,274.5L388.1,250.5M419.9,274.5L419.9,250.5M451.8,274.5L451.7,250.5M483.7,274.5L483.5,250.5M515.6,274.5L515.3,250.5M547.4,274.5L547.2,250.5M579.2,274.5L579.0,250.5M610.9,274.5L610.9,250.5M642.7,274.5L642.8,250.5M674.5,274.5L674.7,250.5M706.3,274.5L706.5,250.5M738.1,274.5L738.4,250.5M770.0,274.5L770.2,250.5M801.9,274.5L802.0,250.5M833.8,274.5L833.8,250.5M865.7,274.5L865.6,250.5M897.6,274.5L897.4,250.5M929.5,274.5L929.2,250.5M961.3,274.5L961.1,250.5M228.8,242.6L228.9,218.6M260.3,242.6L260.9,218.6M291.9,242.6L292.9,218.6M323.6,242.6L324.8,218.7M355.5,242.6L356.6,218.6M387.6,242.6L388.3,218.6M419.9,242.6L419.9,218.6M452.2,242.6L451.5,218.6M484.3,242.6L483.1,218.6M516.2,242.6L515.0,218.7M547.9,242.6L546.9,218.6M579.5,242.6L578.9,218.6M611.0,242.6L610.9,218.6M642.6,242.6L642.9,218.6M674.1,242.6L674.9,218.6M705.8,242.6L706.8,218.6M737.5,242.6L738.7,218.7M769.5,242.6L770.5,218.6M801.7,242.6L802.1,218.6M834.0,242.6L833.7,218.6M866.2,242.6L865.3,218.6M898.2,242.6L897.1,218.7M930.0,242.6L928.9,218.6M961.7,242.6L960.9,218.6M228.7,210.8L228.9,186.8M259.4,210.7L261.4,186.8M290.3,210.6L293.8,186.9M321.2,210.5L326.2,187.0M352.4,210.3L358.4,187.1M384.5,210.4L390.1,187.0M419.6,210.8L420.0,186.8M455.1,210.4L449.7,187.0M487.4,210.3L481.3,187.1M518.7,210.4L513.5,187.0M549.7,210.6L545.8,186.9M580.5,210.7L578.3,186.8M611.3,210.8L610.7,186.8M642.1,210.8L643.2,186.8M672.8,210.7L675.6,186.9M703.7,210.5L708.0,186.9M734.7,210.4L740.4,187.0M766.2,210.3L772.4,187.1M799.3,210.6L803.5,186.9M835.6,210.7L832.7,186.9M869.4,210.3L863.4,187.1M901.1,210.4L895.3,187.1M932.2,210.5L927.6,187.0M963.1,210.7L960.0,186.9M228.5,179.0L229.1,155.0M258.1,178.7L262.2,155.1M287.7,178.2L295.3,155.4M317.1,177.1L328.6,156.0M346.3,175.3L362.0,157.1M375.1,171.7L395.6,159.2M404.8,164.4L428.8,163.5M465.0,171.1L443.9,159.6M493.8,174.9L477.5,157.3M523.0,176.9L511.0,156.2M552.4,178.1L544.2,155.5M582.0,178.7L577.4,155.1M611.6,178.9L610.5,155.0M641.3,178.9L643.6,155.0M671.0,178.5L676.7,155.2M700.5,177.8L709.9,155.7M729.9,176.4L743.2,156.5M758.9,174.0L776.7,157.9M787.7,169.0L810.3,160.8M848.5,167.3L825.2,161.8M877.5,173.2L858.7,158.4M906.5,176.0L892.2,156.7M935.7,177.5L925.6,155.8M965.2,178.4L958.8,155.3" stroke="#000" stroke-width="3.0" fill="none"/>
</g>
<rect x="197" y="132" width="796" height="796" fill="none" stroke="#1a1a1a" stroke-width="3"/>
<path d="M197.0,928.0v11M197.0,928.0h-11M276.6,928.0v6M197.0,848.4h-6M356.2,928.0v11M197.0,768.8h-11M435.8,928.0v6M197.0,689.2h-6M515.4,928.0v11M197.0,609.6h-11M595.0,928.0v6M197.0,530.0h-6M674.6,928.0v11M197.0,450.4h-11M754.2,928.0v6M197.0,370.8h-6M833.8,928.0v11M197.0,291.2h-11M913.4,928.0v6M197.0,211.6h-6M993.0,928.0v11M197.0,132.0h-11" stroke="#1a1a1a" stroke-width="3" fill="none"/>
<text transform="translate(197.0,990.0) scale(0.950,1)" text-anchor="middle" style="font-family:'Liberation Sans', Arial, sans-serif;font-size:59px;">0.0</text>
<text transform="translate(179.0,944.5) scale(0.950,1)" text-anchor="end" style="font-family:'Liberation Sans', Arial, sans-serif;font-size:59px;">0.0</text>
<text transform="translate(356.2,990.0) scale(0.950,1)" text-anchor="middle" style="font-family:'Liberation Sans', Arial, sans-serif;font-size:59px;">0.2</text>
<text transform="translate(179.0,785.3) scale(0.950,1)" text-anchor="end" style="font-family:'Liberation Sans', Arial, sans-serif;font-size:59px;">0.2</text>
<text transform="translate(515.4,990.0) scale(0.950,1)" text-anchor="middle" style="font-family:'Liberation Sans', Arial, sans-serif;font-size:59px;">0.4</text>
<text transform="translate(179.0,626.1) scale(0.950,1)" text-anchor="end" style="font-family:'Liberation Sans', Arial, sans-serif;font-size:59px;">0.4</text>
<text transform="translate(674.6,990.0) scale(0.950,1)" text-anchor="middle" style="font-family:'Liberation Sans', Arial, sans-serif;font-size:59px;">0.6</text>
<text transform="translate(179.0,466.9) scale(0.950,1)" text-anchor="end" style="font-family:'Liberation Sans', Arial, sans-serif;font-size:59px;">0.6</text>
<text transform="translate(833.8,990.0) scale(0.950,1)" text-anchor="middle" style="font-family:'Liberation Sans', Arial, sans-serif;font-size:59px;">0.8</text>
<text transform="translate(179.0,307.7) scale(0.950,1)" text-anchor="end" style="font-family:'Liberation Sans', Arial, sans-serif;font-size:59px;">0.8</text>
<text transform="translate(993.0,990.0) scale(0.950,1)" text-anchor="middle" style="font-family:'Liberation Sans', Arial, sans-serif;font-size:59px;">1.0</text>
<text transform="translate(179.0,148.5) scale(0.950,1)" text-anchor="end" style="font-family:'Liberation Sans', Arial, sans-serif;font-size:59px;">1.0</text>
<text x="565.0" y="64.0" text-anchor="middle" style="font-family:'Liberation Sans', Arial, sans-serif;font-size:61px;">(a)</text>
<text x="500" y="1063" style="font-family:'Liberation Sans', Arial, sans-serif;font-size:57px"><tspan style="font-family:'Liberation Serif', 'Times New Roman', serif;font-style:italic">&#966;</tspan> / (2 <tspan style="font-family:'Liberation Serif', 'Times New Roman', serif">&#960;</tspan>)</text>
<text x="18" y="543" style="font-family:'Liberation Serif', 'Times New Roman', serif;font-style:italic;font-size:61px">l / L<tspan dy="11" style="font-size:34px">s</tspan></text>
<g clip-path="url(#clipBulb)">
<rect x="1420" y="190" width="520" height="705" fill="url(#bBulbV)"/>
<rect x="1420" y="190" width="520" height="705" fill="url(#bBulbH)"/>
<rect x="1420" y="190" width="520" height="265" fill="url(#bNeckMul)" mask="url(#bNeckMask)" style="mix-blend-mode:multiply"/>
<ellipse cx="1583" cy="857" rx="62" ry="30" transform="rotate(30 1583 857)" fill="url(#bDef1)"/>
</g>
<g clip-path="url(#clipLeft)">
<rect x="1210" y="190" width="500" height="710" fill="url(#bLeftV)"/>
<rect x="1210" y="190" width="500" height="710" fill="url(#bLeftH)" mask="url(#bLeftMask)"/>
</g>
<g clip-path="url(#clipRight)">
<rect x="1650" y="190" width="490" height="710" fill="url(#bRightV)"/>
<ellipse cx="1945" cy="590" rx="110" ry="170" fill="url(#bRightHi)"/>
<ellipse cx="2140" cy="690" rx="170" ry="260" fill="url(#bRightEdge)"/>
<ellipse cx="1968" cy="742" rx="95" ry="58" transform="rotate(-38 1968 742)" fill="url(#bDef2)"/>
</g>
<rect x="2231" y="250" width="54" height="643" fill="url(#cbA)"/>
<text transform="translate(2294.0,914.1) scale(0.950,1)" text-anchor="start" style="font-family:'Liberation Sans', Arial, sans-serif;font-size:59px;">0.0</text>
<text transform="translate(2294.0,783.5) scale(0.950,1)" text-anchor="start" style="font-family:'Liberation Sans', Arial, sans-serif;font-size:59px;">0.2</text>
<text transform="translate(2294.0,652.9) scale(0.950,1)" text-anchor="start" style="font-family:'Liberation Sans', Arial, sans-serif;font-size:59px;">0.4</text>
<text transform="translate(2294.0,522.3) scale(0.950,1)" text-anchor="start" style="font-family:'Liberation Sans', Arial, sans-serif;font-size:59px;">0.6</text>
<text transform="translate(2294.0,391.7) scale(0.950,1)" text-anchor="start" style="font-family:'Liberation Sans', Arial, sans-serif;font-size:59px;">0.8</text>
<text transform="translate(2294.0,261.1) scale(0.950,1)" text-anchor="start" style="font-family:'Liberation Sans', Arial, sans-serif;font-size:59px;">1.0</text>
<text x="1673.2" y="65.5" text-anchor="middle" style="font-family:'Liberation Sans', Arial, sans-serif;font-size:61px;">(b)</text>
<text x="2236" y="170" style="font-family:'Liberation Serif', 'Times New Roman', serif;font-style:italic;font-size:62px">s <tspan style="font-style:normal;font-size:74px">/</tspan> s<tspan dy="8" style="font-style:normal;font-size:37px">0</tspan></text>
<path d="M363.7,1361.5V1992M616.5,1361.5V1992" stroke="#aaa" stroke-width="2" fill="none"/>
<path d="M238,1866.6H867L1016,1923.0M238,1740.2H867L1016,1754.0M238,1613.8H867L1016,1585.0M238,1487.4H867L1016,1416.0" stroke="#b8b8b8" stroke-width="1.6" stroke-dasharray="3,2" fill="none"/>
<path d="M889.3,1345.1V2007.8M916.2,1323.9V2025.7M944.5,1301.7V2044.5M979.4,1274.2V2067.7" stroke="#b4b4b4" stroke-width="2" fill="none"/>
<path d="M238,1360.5L867,1362.6L1015.8,1245.6" stroke="#333" stroke-width="2.2" fill="none"/>
<path d="M867,1362.6V1993M1016,1245.6V2094" stroke="#777" stroke-width="2" fill="none"/>
<path d="M200,1992.0H900M200,2009.0H900M200,2029.3H900M200,2049.6H900M200,2074.0H900" stroke="#999" stroke-width="1.6" fill="none"/>
<polygon points="216.7,1283.0 223.4,1272.3 238.2,1272.3 247.6,1280.4 253.0,1293.8 255.7,1333.0 266.5,1334.2 273.2,1339.6 278.6,1347.6 282.6,1361.0 286.7,1428.4 290.7,1563.0 294.7,1700.0 301.0,1825.8 308.5,1926.4 312.0,1960.0 316.0,1976.7 323.5,1988.7 360.0,1988.0 401.5,1984.2 416.6,1983.0 426.7,1986.7 439.2,1991.7 445.5,1986.7 446.5,2010.0 446.0,2060.0 444.3,2089.8 436.7,2098.6 421.6,2089.8 401.5,2086.0 360.0,2092.0 326.0,2097.4 285.8,2100.0 270.7,2092.4 250.6,2064.7 235.5,2027.0 225.5,1976.7 212.9,1876.0 200.3,1775.5 196.0,1760.0 193.8,1726.8 189.5,1700.0 185.2,1678.4 178.8,1651.5 173.4,1639.7 171.2,1631.6 171.2,1627.8 182.0,1615.0 187.4,1609.5 190.6,1587.0 193.8,1560.0 202.0,1509.0 208.6,1428.0 214.0,1320.7" fill="url(#cSurf)"/>
<polygon points="502.0,1981.7 514.7,1975.4 527.3,1976.7 552.4,1984.2 620.0,1989.2 682.9,1989.2 695.0,1984.0 703.0,1976.7 709.0,1958.0 713.0,1926.4 720.6,1851.0 725.6,1775.5 728.0,1700.0 731.0,1600.0 734.5,1462.0 738.6,1373.4 741.5,1367.0 745.0,1368.5 750.0,1366.0 755.0,1369.0 760.0,1366.2 764.2,1370.7 768.2,1435.3 772.2,1553.7 773.6,1543.0 779.0,1408.4 783.0,1322.3 783.8,1316.9 788.4,1312.8 793.0,1316.0 799.1,1316.9 807.2,1321.0 812.6,1312.8 815.3,1319.6 818.0,1462.0 822.0,1600.0 828.7,1700.0 831.3,1775.5 833.8,1825.8 836.3,1775.5 841.3,1700.0 845.0,1660.0 851.6,1623.7 857.0,1586.0 861.0,1586.5 865.0,1591.4 870.0,1650.0 875.8,1720.0 884.0,1825.8 896.7,1951.5 904.2,2014.4 960.0,2053.0 1017.4,2092.4 1017.4,2093.6 947.0,2092.4 921.8,2084.8 884.0,2079.8 859.0,2077.3 833.8,2077.3 796.0,2084.8 771.0,2094.9 700.0,2098.0 682.9,2098.6 620.0,2092.4 552.4,2082.3 527.3,2079.8 514.7,2096.0 507.0,2087.3 504.0,2040.0" fill="url(#cSurf)"/>
<g clip-path="url(#cClipL)"><rect x="140" y="1250" width="900" height="860" fill="url(#cVert)"/><rect x="140" y="1978" width="900" height="130" fill="url(#cHorz)"/></g>
<g clip-path="url(#cClipR)"><rect x="140" y="1250" width="900" height="860" fill="url(#cVert)"/><rect x="140" y="1978" width="900" height="130" fill="url(#cHorz)"/></g>
<polygon points="488.6,1296.3 494.1,1481.7 495.5,1600.0 497.0,1713.0 501.0,1899.0 503.5,1985.0 479.5,2033.0 477.5,1980.0 474.5,1880.0 471.5,1760.0 470.0,1650.0 471.5,1540.0 476.0,1430.0 482.0,1360.0" fill="url(#cSurf)" fill-opacity="0.8"/>
<polygon points="488.6,1296.3 494.1,1481.7 495.5,1600.0 497.0,1713.0 501.0,1899.0 503.5,1985.0 479.5,2033.0 477.5,1980.0 474.5,1880.0 471.5,1760.0 470.0,1650.0 471.5,1540.0 476.0,1430.0 482.0,1360.0" fill="url(#cVert)"/>
<polygon points="471.9,1268.5 473.5,1360.0 471.0,1480.0 467.0,1600.0 462.5,1737.0 458.0,1875.0 453.5,1957.0 450.0,1995.0 446.0,1995.0 449.0,1957.0 453.0,1875.0 457.0,1737.0 461.0,1600.0 466.0,1481.7" fill="url(#cSurf)" fill-opacity="0.9"/>
<path d="M159.4,1631.6H172" stroke="#888" stroke-width="1.6"/>
<path d="M126,2103L1019,2097.5" stroke="#111" stroke-width="2.6" fill="none"/>
<path d="M154.6,2108.4L227.4,1993" stroke="#111" stroke-width="2.4" fill="none"/>
<path d="M227.4,1993.0H199.4M222.2,2001.3H206.2M216.9,2009.7H200.9M211.6,2018.0H195.6M204.5,2029.3H188.5M198.8,2038.4H182.8M191.7,2049.6H163.7M184.2,2061.5H168.2M176.3,2074.0H160.3M167.8,2087.4H151.8" stroke="#111" stroke-width="2.2" fill="none"/>
<path d="M158.7,2102.8l6,9M244.7,2102.3v6M330.8,2101.7l6,9M416.8,2101.2v6M502.8,2100.7l6,9M588.8,2100.1v6M674.9,2099.6l6,9M760.9,2099.1v6M846.9,2098.6l6,9M933.0,2098.0v6M1019.0,2097.5l6,9" stroke="#111" stroke-width="2" fill="none"/>
<text x="564.0" y="1200.0" text-anchor="middle" style="font-family:'Liberation Sans', Arial, sans-serif;font-size:61px;">(c)</text>
<text transform="translate(1027.0,2110.7) scale(0.950,1)" text-anchor="start" style="font-family:'Liberation Sans', Arial, sans-serif;font-size:54.5px;">0.0</text>
<text transform="translate(1027.0,1945.2) scale(0.950,1)" text-anchor="start" style="font-family:'Liberation Sans', Arial, sans-serif;font-size:54.5px;">0.2</text>
<text transform="translate(1027.0,1773.7) scale(0.950,1)" text-anchor="start" style="font-family:'Liberation Sans', Arial, sans-serif;font-size:54.5px;">0.4</text>
<text transform="translate(1027.0,1603.7) scale(0.950,1)" text-anchor="start" style="font-family:'Liberation Sans', Arial, sans-serif;font-size:54.5px;">0.6</text>
<text transform="translate(1027.0,1432.7) scale(0.950,1)" text-anchor="start" style="font-family:'Liberation Sans', Arial, sans-serif;font-size:54.5px;">0.8</text>
<text transform="translate(1027.0,1263.7) scale(0.950,1)" text-anchor="start" style="font-family:'Liberation Sans', Arial, sans-serif;font-size:54.5px;">1.0</text>
<text transform="translate(116.2,2170.0) scale(0.950,1)" text-anchor="middle" style="font-family:'Liberation Sans', Arial, sans-serif;font-size:59px;">1.0</text>
<text transform="translate(309.3,2170.0) scale(0.950,1)" text-anchor="middle" style="font-family:'Liberation Sans', Arial, sans-serif;font-size:59px;">0.8</text>
<text transform="translate(499.0,2170.0) scale(0.950,1)" text-anchor="middle" style="font-family:'Liberation Sans', Arial, sans-serif;font-size:59px;">0.6</text>
<text transform="translate(694.0,2170.0) scale(0.950,1)" text-anchor="middle" style="font-family:'Liberation Sans', Arial, sans-serif;font-size:59px;">0.4</text>
<text transform="translate(883.8,2170.0) scale(0.950,1)" text-anchor="middle" style="font-family:'Liberation Sans', Arial, sans-serif;font-size:59px;">0.2</text>
<text transform="translate(1070.0,2170.0) scale(0.950,1)" text-anchor="middle" style="font-family:'Liberation Sans', Arial, sans-serif;font-size:59px;">0.0</text>
<text x="163.5" y="2007.5" text-anchor="middle" style="font-family:'Liberation Sans', Arial, sans-serif;font-size:53px;">1.0</text>
<text x="120.0" y="2064.0" text-anchor="middle" style="font-family:'Liberation Sans', Arial, sans-serif;font-size:53px;">0.5</text>
<text x="83.5" y="2118.4" text-anchor="middle" style="font-family:'Liberation Sans', Arial, sans-serif;font-size:53px;">0.0</text>
<text x="1116" y="1687" style="font-family:'Liberation Serif', 'Times New Roman', serif;font-style:italic;font-size:60px">&#946;</text>
<text x="1146" y="1664" style="font-family:'Liberation Serif', 'Times New Roman', serif;font-size:30px">2</text>
<text x="543" y="2218" style="font-family:'Liberation Serif', 'Times New Roman', serif;font-style:italic;font-size:61px">l / L<tspan dy="11" style="font-size:34px">s</tspan></text>
<text transform="translate(46,2047) rotate(-56)" style="font-family:'Liberation Sans', Arial, sans-serif;font-size:57px"><tspan style="font-family:'Liberation Serif', 'Times New Roman', serif;font-style:italic">&#966;</tspan> / (2 <tspan style="font-family:'Liberation Serif', 'Times New Roman', serif">&#960;</tspan>)</text>
<g clip-path="url(#clipD)"><g filter="url(#cmD)">
<rect x="1361" y="1276" width="803.5" height="801.5" fill="#000"/>
<rect x="1361" y="1276" width="803.5" height="60" fill="url(#dTopBand)"/>
<ellipse cx="1588.2" cy="1300" rx="215" ry="46" fill="url(#dHalo)" style="mix-blend-mode:lighten"/>
<ellipse cx="1991.5" cy="1300" rx="215" ry="46" fill="url(#dHalo)" style="mix-blend-mode:lighten"/>
<ellipse cx="1588.2" cy="1324.6" rx="114" ry="42" fill="url(#dBlob)" style="mix-blend-mode:lighten"/>
<ellipse cx="1588.2" cy="1326.6" rx="38" ry="11" fill="url(#dHole)"/>
<ellipse cx="1991.5" cy="1324.6" rx="114" ry="42" fill="url(#dBlob)" style="mix-blend-mode:lighten"/>
<ellipse cx="1991.5" cy="1326.6" rx="38" ry="11" fill="url(#dHole)"/>
<rect x="1361" y="1538" width="803.5" height="62" fill="url(#dLines)"/>
<circle cx="1732.8" cy="1927.0" r="60" fill="url(#dBRing)"/>
<circle cx="2133.4" cy="1927.0" r="60" fill="url(#dBRing)"/>
<circle cx="1329.9" cy="1927.0" r="60" fill="url(#dBRing)"/>
</g></g>
<rect x="1361" y="1276" width="803.5" height="801.5" fill="none" stroke="#111" stroke-width="3"/>
<path d="M1361.0,2077.5v11M1361.0,2077.5h-11M1441.3,2077.5v6M1361.0,1997.3h-6M1521.7,2077.5v11M1361.0,1917.2h-11M1602.0,2077.5v6M1361.0,1837.0h-6M1682.4,2077.5v11M1361.0,1756.9h-11M1762.8,2077.5v6M1361.0,1676.8h-6M1843.1,2077.5v11M1361.0,1596.6h-11M1923.4,2077.5v6M1361.0,1516.5h-6M2003.8,2077.5v11M1361.0,1436.3h-11M2084.2,2077.5v6M1361.0,1356.2h-6M2164.5,2077.5v11M1361.0,1276.0h-11" stroke="#111" stroke-width="3" fill="none"/>
<text transform="translate(1361.0,2141.0) scale(0.950,1)" text-anchor="middle" style="font-family:'Liberation Sans', Arial, sans-serif;font-size:59px;">0.0</text>
<text transform="translate(1343.5,2094.0) scale(0.950,1)" text-anchor="end" style="font-family:'Liberation Sans', Arial, sans-serif;font-size:59px;">0.0</text>
<text transform="translate(1521.7,2141.0) scale(0.950,1)" text-anchor="middle" style="font-family:'Liberation Sans', Arial, sans-serif;font-size:59px;">0.2</text>
<text transform="translate(1343.5,1933.7) scale(0.950,1)" text-anchor="end" style="font-family:'Liberation Sans', Arial, sans-serif;font-size:59px;">0.2</text>
<text transform="translate(1682.4,2141.0) scale(0.950,1)" text-anchor="middle" style="font-family:'Liberation Sans', Arial, sans-serif;font-size:59px;">0.4</text>
<text transform="translate(1343.5,1773.4) scale(0.950,1)" text-anchor="end" style="font-family:'Liberation Sans', Arial, sans-serif;font-size:59px;">0.4</text>
<text transform="translate(1843.1,2141.0) scale(0.950,1)" text-anchor="middle" style="font-family:'Liberation Sans', Arial, sans-serif;font-size:59px;">0.6</text>
<text transform="translate(1343.5,1613.1) scale(0.950,1)" text-anchor="end" style="font-family:'Liberation Sans', Arial, sans-serif;font-size:59px;">0.6</text>
<text transform="translate(2003.8,2141.0) scale(0.950,1)" text-anchor="middle" style="font-family:'Liberation Sans', Arial, sans-serif;font-size:59px;">0.8</text>
<text transform="translate(1343.5,1452.8) scale(0.950,1)" text-anchor="end" style="font-family:'Liberation Sans', Arial, sans-serif;font-size:59px;">0.8</text>
<text transform="translate(2164.5,2141.0) scale(0.950,1)" text-anchor="middle" style="font-family:'Liberation Sans', Arial, sans-serif;font-size:59px;">1.0</text>
<text transform="translate(1343.5,1292.5) scale(0.950,1)" text-anchor="end" style="font-family:'Liberation Sans', Arial, sans-serif;font-size:59px;">1.0</text>
<text x="1673.2" y="1203.0" text-anchor="middle" style="font-family:'Liberation Sans', Arial, sans-serif;font-size:61px;">(d)</text>
<text x="1670" y="2203" style="font-family:'Liberation Sans', Arial, sans-serif;font-size:58px"><tspan style="font-family:'Liberation Serif', 'Times New Roman', serif;font-style:italic">&#966;</tspan> / (2 <tspan style="font-family:'Liberation Serif', 'Times New Roman', serif">&#960;</tspan>)</text>
<text x="1194" y="1693" style="font-family:'Liberation Serif', 'Times New Roman', serif;font-style:italic;font-size:61px">l / L<tspan dy="11" style="font-size:34px">s</tspan></text>
<rect x="2242.5" y="1350" width="56.5" height="691" fill="url(#cbD)"/>
<rect x="2242.5" y="2041" width="56.5" height="7" fill="#000"/>
<text transform="translate(2308.0,2069.0) scale(0.960,1)" text-anchor="start" style="font-family:'Liberation Sans', Arial, sans-serif;font-size:56px;">0.0</text>
<text transform="translate(2308.0,1929.6) scale(0.960,1)" text-anchor="start" style="font-family:'Liberation Sans', Arial, sans-serif;font-size:56px;">0.2</text>
<text transform="translate(2308.0,1790.2) scale(0.960,1)" text-anchor="start" style="font-family:'Liberation Sans', Arial, sans-serif;font-size:56px;">0.4</text>
<text transform="translate(2308.0,1650.8) scale(0.960,1)" text-anchor="start" style="font-family:'Liberation Sans', Arial, sans-serif;font-size:56px;">0.6</text>
<text transform="translate(2308.0,1511.4) scale(0.960,1)" text-anchor="start" style="font-family:'Liberation Sans', Arial, sans-serif;font-size:56px;">0.8</text>
<text transform="translate(2308.0,1372.0) scale(0.960,1)" text-anchor="start" style="font-family:'Liberation Sans', Arial, sans-serif;font-size:56px;">1.0</text>
<text x="2270" y="1318" style="font-family:'Liberation Serif', 'Times New Roman', serif;font-style:italic;font-size:58px">&#946;</text>
<text x="2298" y="1286" style="font-family:'Liberation Serif', 'Times New Roman', serif;font-size:30px">2</text>
</svg>
</body></html>
